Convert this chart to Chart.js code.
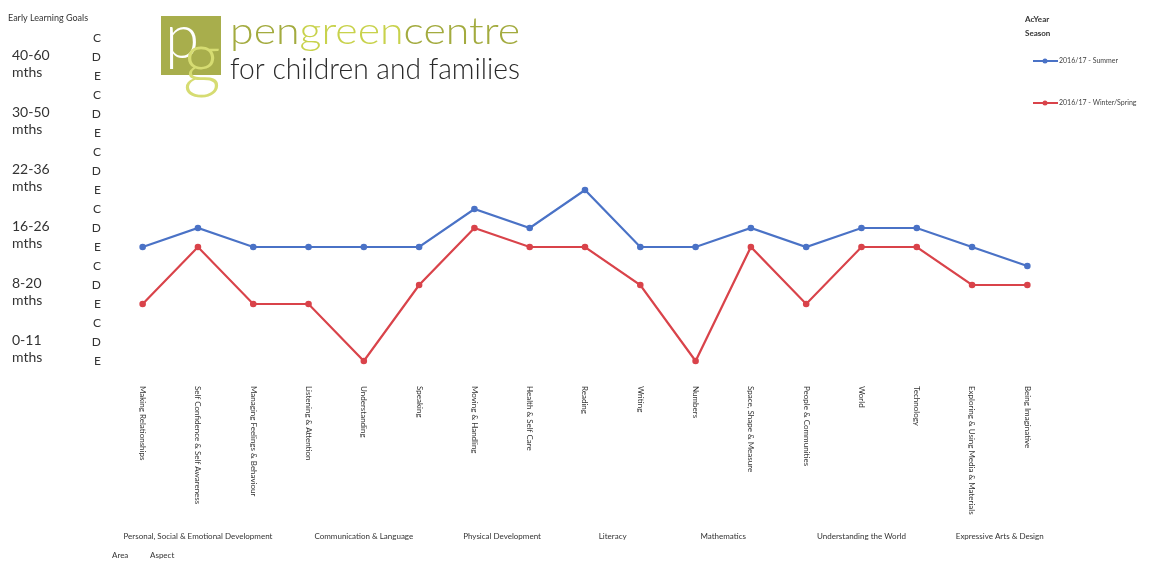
<!DOCTYPE html>
<html>
<head>
<meta charset="utf-8">
<script src="https://cdn.jsdelivr.net/npm/chart.js@4.4.0/dist/chart.umd.min.js"></script>
<style>
  body { margin: 0; background: #fff; }
  #chart { display: block; }
</style>
</head>
<body>
<canvas id="chart" width="1150" height="562"></canvas>
<script>
// aspects along the x axis
const aspects = [
  'Making Relationships', 'Self Confidence & Self Awareness', 'Managing Feelings & Behaviour',
  'Listening & Attention', 'Understanding', 'Speaking',
  'Moving & Handling', 'Health & Self Care',
  'Reading', 'Writing',
  'Numbers', 'Space, Shape & Measure',
  'People & Communities', 'World', 'Technology',
  'Exploring & Using Media & Materials', 'Being Imaginative'
];
const areas = [
  'Personal, Social & Emotional Development', 'Communication & Language', 'Physical Development',
  'Literacy', 'Mathematics', 'Understanding the World', 'Expressive Arts & Design'
];
const areaSpans = [3, 3, 2, 2, 2, 3, 2];

// 1 = 0-11 mths E ... 18 = 40-60 mths C
const summer = [7, 8, 7, 7, 7, 7, 9, 8, 10, 7, 7, 8, 7, 8, 8, 7, 6];
const winterSpring = [4, 7, 4, 4, 1, 5, 8, 7, 7, 5, 1, 7, 4, 7, 7, 5, 5];

const stepLetters = ['C', 'D', 'E'];
const ageBands = ['40-60', '30-50', '22-36', '16-26', '8-20', '0-11'];
const seriesNames = ['2016/17 - Summer', '2016/17 - Winter/Spring'];

const BLUE = '#4a72c6';
const RED = '#d9434a';
const FONT = 'Lato, "Open Sans", sans-serif';

const extras = {
  id: 'extras',
  afterDraw(chart) {
    const ctx = chart.ctx;
    const x = chart.scales.x;
    const y = chart.scales.y;
    ctx.save();
    ctx.fillStyle = '#333';

    // top-left title
    ctx.font = '9px ' + FONT;
    ctx.textAlign = 'left';
    ctx.textBaseline = 'middle';
    ctx.fillText('Early Learning Goals', 8, 18);

    // age band labels, centred on the D row of each band
    ctx.font = '14px ' + FONT;
    ageBands.forEach((b, i) => {
      const py = y.getPixelForValue(17 - 3 * i);
      ctx.fillText(b, 12, py - 2);
      ctx.fillText('mths', 12, py + 15);
    });

    // aspect labels, rotated to read downwards
    ctx.font = '8px ' + FONT;
    aspects.forEach((a, i) => {
      const px = x.getPixelForValue(i);
      ctx.save();
      ctx.translate(px, 386);
      ctx.rotate(Math.PI / 2);
      ctx.textAlign = 'left';
      ctx.fillText(a, 0, 0);
      ctx.restore();
    });

    // area labels under their aspects
    ctx.textAlign = 'center';
    let start = 0;
    areas.forEach((a, i) => {
      const end = start + areaSpans[i] - 1;
      const cx = (x.getPixelForValue(start) + x.getPixelForValue(end)) / 2;
      ctx.fillText(a, cx, 536);
      start = end + 1;
    });
    ctx.textAlign = 'left';
    ctx.fillText('Area', 112, 555);
    ctx.fillText('Aspect', 150, 555);

    // legend
    ctx.font = 'bold 8px ' + FONT;
    ctx.fillText('AcYear', 1025, 19);
    ctx.fillText('Season', 1025, 33);
    ctx.font = '7px ' + FONT;
    chart.data.datasets.forEach((ds, i) => {
      const ly = 61 + i * 42;
      ctx.strokeStyle = ds.borderColor;
      ctx.lineWidth = 2;
      ctx.beginPath();
      ctx.moveTo(1033, ly);
      ctx.lineTo(1058, ly);
      ctx.stroke();
      ctx.fillStyle = ds.borderColor;
      ctx.beginPath();
      ctx.arc(1045, ly, 2.5, 0, Math.PI * 2);
      ctx.fill();
      ctx.fillStyle = '#444';
      ctx.fillText(ds.label, 1059, ly);
    });

    // logo
    ctx.fillStyle = '#a8ae4c';
    ctx.fillRect(161, 16, 60, 59);
    ctx.font = '300 62px ' + FONT;
    ctx.textBaseline = 'alphabetic';
    ctx.fillStyle = '#ffffff';
    ctx.fillText('p', 165, 58);
    ctx.font = '300 74px ' + FONT;
    ctx.fillStyle = '#d6dc72';
    ctx.fillText('g', 183, 84);

    const parts = [['pen', '#a3ab3f'], ['green', '#c8d24c'], ['centre', '#a3ab3f']];
    ctx.font = '300 37px ' + FONT;
    const full = ctx.measureText('pengreencentre').width;
    ctx.save();
    ctx.translate(230, 44);
    ctx.scale(290 / full, 1);
    let off = 0;
    parts.forEach(([t, c]) => {
      ctx.fillStyle = c;
      ctx.fillText(t, off, 0);
      off += ctx.measureText(t).width;
    });
    ctx.restore();

    ctx.font = '300 29px ' + FONT;
    const w2 = ctx.measureText('for children and families').width;
    ctx.save();
    ctx.translate(230, 79);
    ctx.scale(290 / w2, 1);
    ctx.fillStyle = '#2a2a2a';
    ctx.fillText('for children and families', 0, 0);
    ctx.restore();

    ctx.restore();
  }
};

new Chart(document.getElementById('chart'), {
  type: 'line',
  data: {
    labels: aspects,
    datasets: [
      {
        label: seriesNames[0],
        data: summer,
        borderColor: BLUE,
        backgroundColor: BLUE,
        borderWidth: 2.2,
        pointRadius: 2.2,
        tension: 0,
        clip: false
      },
      {
        label: seriesNames[1],
        data: winterSpring,
        borderColor: RED,
        backgroundColor: RED,
        borderWidth: 2.2,
        pointRadius: 2.2,
        tension: 0,
        clip: false
      }
    ]
  },
  options: {
    responsive: false,
    animation: false,
    devicePixelRatio: 1,
    layout: { padding: { top: 38, bottom: 201, right: 95, left: 0 } },
    plugins: { legend: { display: false }, tooltip: { enabled: false } },
    scales: {
      x: {
        offset: true,
        grid: { display: false },
        border: { display: false },
        ticks: { display: false },
        afterFit(s) { s.height = 0; }
      },
      y: {
        min: 1,
        max: 18,
        grid: { display: false, drawTicks: false },
        border: { display: false },
        ticks: {
          stepSize: 1,
          padding: 14,
          color: '#333',
          font: { family: FONT, size: 12 },
          callback: v => stepLetters[(18 - v) % 3]
        },
        afterFit(s) { s.width = 115; }
      }
    }
  },
  plugins: [extras]
});
</script>
</body>
</html>
